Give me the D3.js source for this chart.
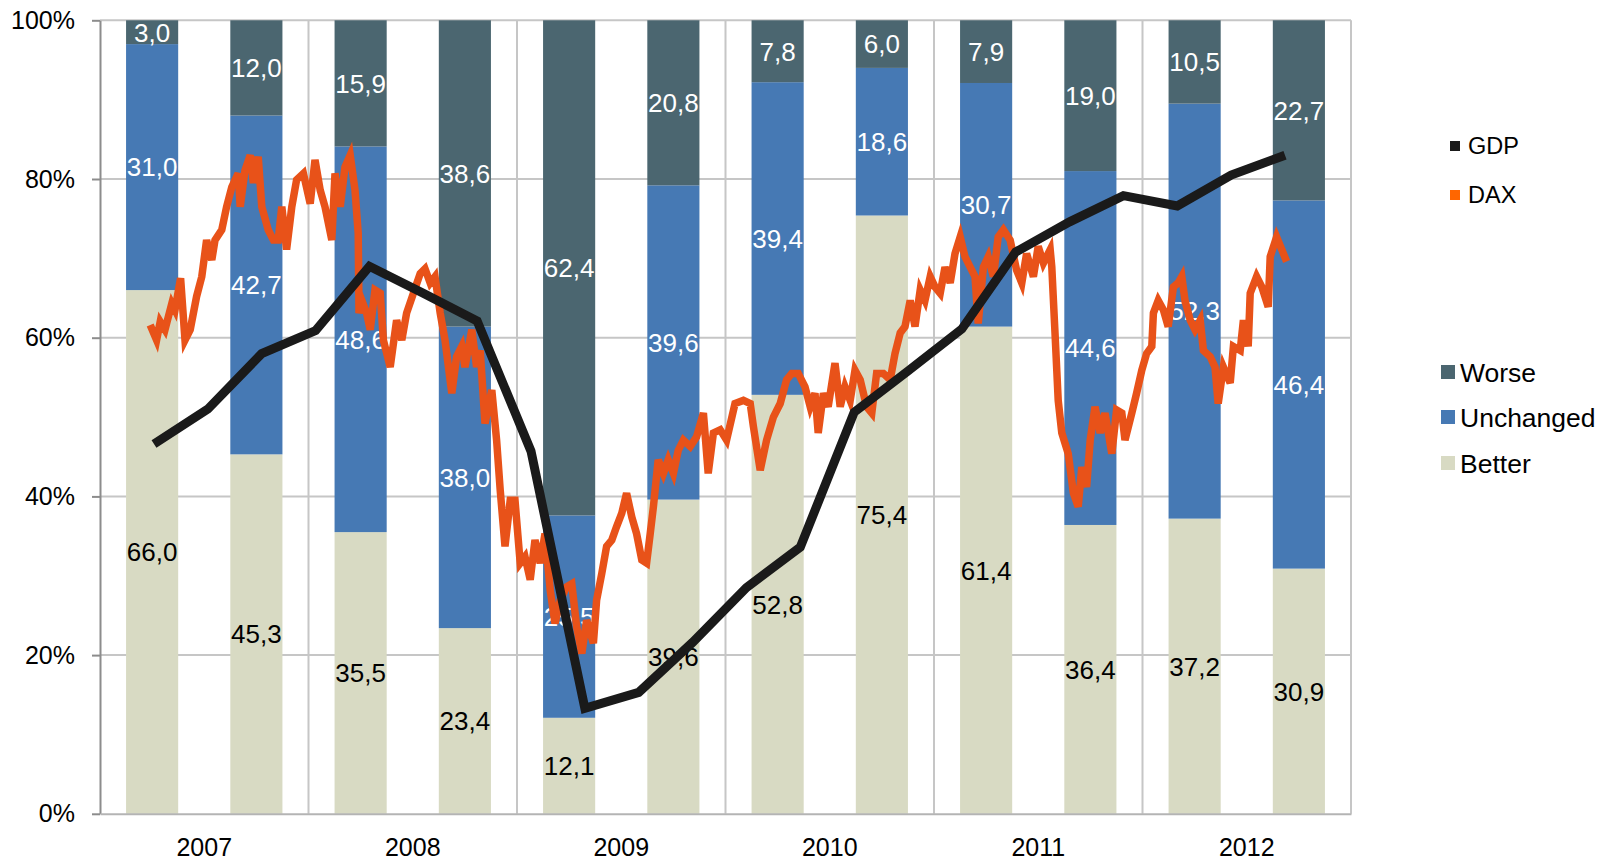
<!DOCTYPE html>
<html>
<head>
<meta charset="utf-8">
<script src="https://cdn.jsdelivr.net/npm/d3@7"></script>
<style>
    body { margin: 0; background: #fff; }
    text { font-family: "Liberation Sans", Arial, sans-serif; }
</style>
</head>
<body>
<div id="chart"></div>
<script>
// survey: share of answers per half year (in %)
const periods = ["2007 H1", "2007 H2", "2008 H1", "2008 H2", "2009 H1", "2009 H2",
                 "2010 H1", "2010 H2", "2011 H1", "2011 H2", "2012 H1", "2012 H2"];
const years = ["2007", "2008", "2009", "2010", "2011", "2012"];
const better    = [66.0, 45.3, 35.5, 23.4, 12.1, 39.6, 52.8, 75.4, 61.4, 36.4, 37.2, 30.9];
const unchanged = [31.0, 42.7, 48.6, 38.0, 25.5, 39.6, 39.4, 18.6, 30.7, 44.6, 52.3, 46.4];
const worse     = [3.0, 12.0, 15.9, 38.6, 62.4, 20.8, 7.8, 6.0, 7.9, 19.0, 10.5, 22.7];
const yTicks = [0, 20, 40, 60, 80, 100];

// GDP, quarterly
const gdpQuarters = ["2007 Q1", "2007 Q2", "2007 Q3", "2007 Q4", "2008 Q1", "2008 Q2", "2008 Q3", "2008 Q4",
                     "2009 Q1", "2009 Q2", "2009 Q3", "2009 Q4", "2010 Q1", "2010 Q2", "2010 Q3", "2010 Q4",
                     "2011 Q1", "2011 Q2", "2011 Q3", "2011 Q4", "2012 Q1", "2012 Q2"];
const gdp = [46.6, 51.0, 58.0, 60.9, 69.0, 65.6, 62.1, 45.7, 13.3, 15.3, 21.6, 28.5,
             33.6, 50.6, 55.8, 61.1, 70.8, 74.6, 77.9, 76.6, 80.5, 83.0];

// DAX, week number since start of 2007 and level read against the % axis
const daxWeek = [0.3, 1.9, 2.8, 4.0, 5.7, 6.5, 7.9, 9.0, 10.3, 11.9, 13.2, 14.4, 15.7, 16.5, 18.2, 19.4,
    20.7, 22.3, 22.8, 24.0, 25.3, 26.1, 27.3, 28.2, 29.8, 31.1, 32.3, 33.2, 34.4, 35.7, 36.9, 38.6,
    40.3, 41.5, 42.8, 44.0, 45.7, 46.5, 47.8, 49.0, 50.3, 51.5, 52.3, 52.5, 53.2, 54.4, 55.3, 56.5,
    57.8, 58.6, 60.3, 61.9, 63.2, 64.4, 66.1, 67.8, 69.0, 70.3, 71.5, 72.8, 74.0, 75.7, 76.9, 78.2,
    79.0, 80.7, 81.9, 82.8, 84.0, 85.7, 86.9, 87.8, 89.0, 90.3, 91.5, 92.8, 94.0, 95.3, 96.5, 97.8,
    99.0, 100.3, 101.5, 102.8, 104.4, 105.7, 106.9, 108.2, 109.4, 111.1, 111.9, 113.2, 114.4, 115.7, 116.9, 118.2,
    119.4, 120.7, 121.9, 123.2, 124.4, 125.3, 126.1, 127.3, 128.6, 129.8, 131.1, 132.3, 133.6, 135.3, 136.9, 138.6,
    139.8, 141.1, 142.8, 144.4, 146.5, 148.6, 150.3, 151.1, 152.8, 154.4, 156.1, 157.8, 159.4, 160.7, 162.3, 164.0,
    165.3, 166.5, 167.3, 168.6, 169.8, 171.5, 172.8, 174.0, 175.3, 176.5, 177.8, 179.4, 180.7, 181.9, 183.6, 185.3,
    186.5, 187.8, 189.0, 190.3, 191.5, 192.8, 194.0, 195.3, 196.5, 197.8, 199.0, 200.3, 201.5, 202.8, 204.0, 205.3,
    206.5, 207.3, 208.6, 209.8, 211.1, 212.3, 213.6, 215.3, 216.9, 218.2, 219.4, 221.1, 222.3, 223.6, 225.3, 225.7,
    226.5, 227.3, 228.2, 229.8, 231.1, 232.3, 233.2, 234.4, 235.3, 236.5, 237.8, 239.0, 240.7, 241.9, 243.2, 244.0,
    245.7, 246.9, 248.2, 249.4, 250.7, 251.1, 252.3, 253.6, 254.8, 256.1, 257.3, 258.2, 259.0, 260.3, 261.5, 262.8,
    263.6, 265.3, 266.5, 267.3, 268.6, 270.3, 271.1, 272.8, 273.6, 274.8, 275.3, 276.9, 278.2, 279.8, 280.3, 281.9,
    283.2, 284.4];
const daxValue = [61.6, 59.7, 62.0, 61.0, 64.3, 63.5, 67.5, 59.7, 61.0, 65.2, 67.7, 72.3, 69.8, 72.3, 73.6, 76.5,
    79.0, 80.7, 76.5, 81.1, 83.0, 79.5, 82.8, 76.5, 73.6, 72.3, 72.3, 76.5, 71.1, 76.5, 79.9, 80.7,
    76.9, 82.4, 78.6, 76.5, 72.3, 80.7, 76.5, 81.5, 83.0, 78.6, 73.2, 63.1, 64.7, 63.1, 61.0, 66.0,
    65.6, 59.7, 56.3, 62.2, 59.7, 63.1, 65.6, 68.1, 68.7, 66.9, 67.7, 63.1, 59.7, 53.0, 57.6, 58.9,
    56.3, 61.0, 56.3, 58.4, 49.2, 53.4, 47.1, 40.8, 33.7, 39.5, 39.5, 31.6, 32.4, 29.5, 34.5, 31.6,
    35.3, 28.2, 24.0, 26.9, 28.6, 29.0, 23.6, 20.2, 24.4, 21.5, 26.9, 30.3, 33.7, 34.5, 36.2, 37.9,
    40.4, 37.4, 35.3, 32.0, 31.6, 35.3, 38.7, 44.6, 42.9, 44.6, 42.9, 45.8, 47.1, 46.3, 47.5, 50.5,
    42.9, 48.0, 48.4, 47.1, 51.7, 52.1, 51.7, 48.8, 43.3, 47.1, 50.0, 51.7, 54.7, 55.5, 55.5, 53.8,
    51.3, 53.0, 48.0, 53.0, 51.3, 56.8, 51.3, 53.8, 52.1, 55.9, 54.7, 51.3, 50.5, 55.5, 55.5, 54.7,
    58.0, 60.6, 61.4, 64.7, 61.4, 66.0, 64.7, 67.7, 66.4, 65.6, 68.9, 66.9, 70.6, 72.7, 70.2, 68.9,
    67.7, 61.8, 68.9, 70.2, 67.7, 72.7, 73.6, 72.3, 68.5, 66.9, 70.6, 67.7, 71.5, 69.4, 71.1, 68.9,
    60.6, 52.1, 48.0, 45.4, 40.4, 38.7, 43.7, 41.2, 47.1, 51.3, 48.0, 50.5, 45.4, 50.9, 50.5, 47.1,
    50.5, 53.0, 55.9, 58.0, 58.9, 63.1, 64.7, 63.5, 61.4, 66.4, 66.9, 67.7, 64.7, 62.2, 61.0, 62.2,
    58.4, 57.6, 56.3, 51.7, 56.3, 54.3, 58.9, 58.4, 62.2, 58.9, 65.6, 67.7, 66.4, 63.9, 70.2, 72.7,
    71.1, 69.6];

const colors = {
    worse: "#4b6670",
    unchanged: "#4679b4",
    better: "#d8dac3",
    gdp: "#1a1a1a",
    dax: "#e85219",
    daxKey: "#ff6600"
};

const fmt = d3.formatLocale({ decimal: ",", thousands: ".", grouping: [3], currency: ["", "€"] }).format(".1f");

function main() {
    const width = 1611;
    const height = 863;
    const plot = { left: 100, right: 1351, top: 20.3, bottom: 813.8 };

    const svg = d3.select("#chart")
        .append("svg")
            .attr("width", width)
            .attr("height", height);

    const x = d3.scaleBand()
        .domain(periods)
        .range([plot.left, plot.right])
        .paddingInner(0.5)
        .paddingOuter(0.25);

    const xYear = d3.scaleBand()
        .domain(years)
        .range([plot.left, plot.right]);

    const y = d3.scaleLinear()
        .domain([0, 100])
        .range([plot.bottom, plot.top]);

    // GDP and DAX sit on their own (hidden) time axes
    const xGdp = d3.scalePoint()
        .domain(gdpQuarters)
        .range([154, 1285]);

    const xDax = d3.scaleLinear()
        .domain([0, 285])
        .range([149, 1289]);

    // grid
    svg.append("g")
        .selectAll("line")
        .data(yTicks.filter(d => d > 0))
        .join("line")
            .attr("x1", plot.left)
            .attr("x2", plot.right)
            .attr("y1", d => y(d))
            .attr("y2", d => y(d))
            .attr("stroke", "#c6c6c6")
            .attr("stroke-width", 2);

    svg.append("g")
        .selectAll("line")
        .data(years)
        .join("line")
            .attr("x1", d => xYear(d) + xYear.bandwidth())
            .attr("x2", d => xYear(d) + xYear.bandwidth())
            .attr("y1", plot.top)
            .attr("y2", plot.bottom)
            .attr("stroke", "#c6c6c6")
            .attr("stroke-width", 2);

    // stacked bars
    const rows = periods.map((p, i) => ({ period: p, better: better[i], unchanged: unchanged[i], worse: worse[i] }));
    const keys = ["better", "unchanged", "worse"];
    const stacked = d3.stack().keys(keys)(rows);

    const layers = svg.append("g")
        .selectAll("g")
        .data(stacked)
        .join("g")
            .attr("fill", d => colors[d.key]);

    layers.selectAll("rect")
        .data(d => d)
        .join("rect")
            .attr("x", d => x(d.data.period))
            .attr("y", d => y(d[1]))
            .attr("width", x.bandwidth())
            .attr("height", d => y(d[0]) - y(d[1]));

    // value labels, centred in each segment
    const labels = svg.append("g")
        .selectAll("g")
        .data(stacked)
        .join("g")
            .attr("fill", d => d.key === "better" ? "#000" : "#fff");

    labels.selectAll("text")
        .data(d => d.map(s => ({ s: s, key: d.key })))
        .join("text")
            .attr("x", d => x(d.s.data.period) + x.bandwidth() / 2)
            .attr("y", d => y((d.s[0] + d.s[1]) / 2))
            .attr("dy", "0.36em")
            .attr("text-anchor", "middle")
            .attr("font-size", 26)
            .text(d => fmt(d.s.data[d.key]));

    // axes
    const yAxis = svg.append("g")
        .attr("transform", `translate(${plot.left}, 0)`)
        .call(d3.axisLeft(y)
            .tickValues(yTicks)
            .tickFormat(d => d + "%")
            .tickSize(8)
            .tickSizeOuter(0)
            .tickPadding(17));
    yAxis.select(".domain").attr("stroke", "#8c8c8c").attr("stroke-width", 2);
    yAxis.selectAll(".tick line").attr("stroke", "#8c8c8c").attr("stroke-width", 2);
    yAxis.selectAll(".tick text")
        .attr("font-size", 25)
        .attr("font-family", "Liberation Sans, Arial, sans-serif")
        .attr("fill", "#000");

    const xAxis = svg.append("g")
        .attr("transform", `translate(0, ${plot.bottom})`)
        .call(d3.axisBottom(xYear)
            .tickSize(0)
            .tickSizeOuter(0)
            .tickPadding(24));
    xAxis.select(".domain").attr("stroke", "#b4b4b4").attr("stroke-width", 2);
    xAxis.selectAll(".tick text")
        .attr("font-size", 25)
        .attr("font-family", "Liberation Sans, Arial, sans-serif")
        .attr("fill", "#000");

    // DAX line (daily noise makes it look like a thick band)
    const daxLine = d3.line()
        .x((d, i) => xDax(daxWeek[i]))
        .y(d => y(d));

    svg.append("path")
        .datum(daxValue)
        .attr("fill", "none")
        .attr("stroke", colors.dax)
        .attr("stroke-width", 7.5)
        .attr("stroke-linejoin", "miter")
        .attr("d", daxLine);

    // GDP line
    const gdpLine = d3.line()
        .x((d, i) => xGdp(gdpQuarters[i]))
        .y(d => y(d));

    svg.append("path")
        .datum(gdp)
        .attr("fill", "none")
        .attr("stroke", colors.gdp)
        .attr("stroke-width", 9)
        .attr("stroke-linejoin", "miter")
        .attr("d", gdpLine);

    // legends
    const lineKeys = [
        { name: "GDP", color: colors.gdp, y: 146 },
        { name: "DAX", color: colors.daxKey, y: 195 }
    ];
    const lk = svg.append("g")
        .selectAll("g")
        .data(lineKeys)
        .join("g")
            .attr("transform", d => `translate(1450, ${d.y})`);
    lk.append("rect")
        .attr("x", 0)
        .attr("y", -5)
        .attr("width", 10)
        .attr("height", 10)
        .attr("fill", d => d.color);
    lk.append("text")
        .attr("x", 18)
        .attr("dy", "0.36em")
        .attr("font-size", 23.5)
        .text(d => d.name);

    const barKeys = [
        { name: "Worse", color: colors.worse, y: 372 },
        { name: "Unchanged", color: colors.unchanged, y: 417 },
        { name: "Better", color: colors.better, y: 463 }
    ];
    const bk = svg.append("g")
        .selectAll("g")
        .data(barKeys)
        .join("g")
            .attr("transform", d => `translate(1441, ${d.y})`);
    bk.append("rect")
        .attr("x", 0)
        .attr("y", -7)
        .attr("width", 14)
        .attr("height", 14)
        .attr("fill", d => d.color);
    bk.append("text")
        .attr("x", 19)
        .attr("dy", "0.36em")
        .attr("font-size", 26.5)
        .text(d => d.name);
}

main();
</script>
</body>
</html>
